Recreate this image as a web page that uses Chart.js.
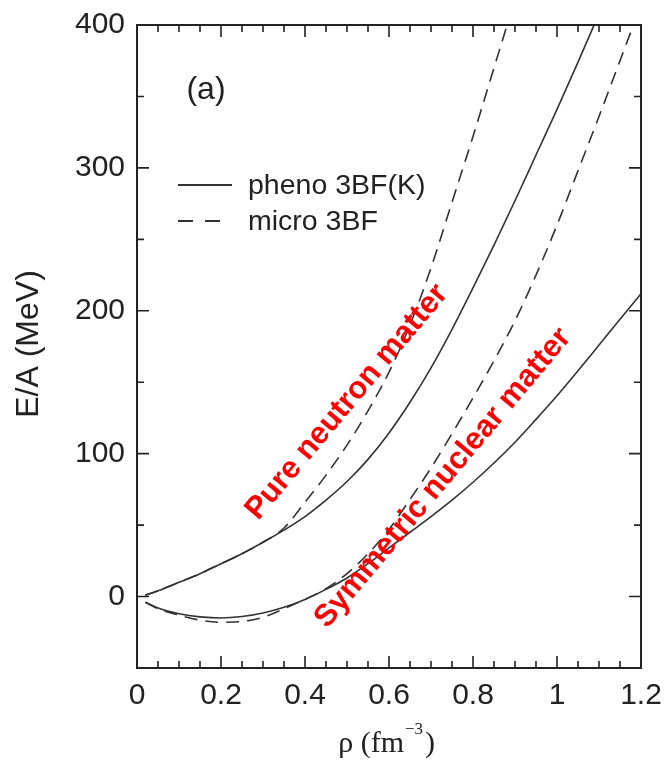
<!DOCTYPE html>
<html>
<head>
<meta charset="utf-8">
<script src="https://cdn.jsdelivr.net/npm/chart.js@4.4.0/dist/chart.umd.min.js"></script>
<style>
  html, body { margin: 0; padding: 0; background: #fff; }
</style>
</head>
<body>
<canvas id="graficaEA" width="666" height="766"></canvas>
<script>
// densidad (fm^-3)
const rho = [0.02, 0.05, 0.1, 0.15, 0.2, 0.25, 0.3, 0.35, 0.4, 0.45, 0.5, 0.55, 0.6,
             0.65, 0.7, 0.75, 0.8, 0.85, 0.9, 0.95, 1.0, 1.05, 1.1, 1.15, 1.2];

// E/A (MeV), materia de neutrones pura
const pnmPheno = [1, 4, 10, 16, 23, 30, 38, 46.5, 56, 67.5, 80.5, 96, 114.5,
                  136, 160, 187, 216, 246, 277, 309, 341, 374, 408, null, null];
const pnmMicro = [1, 4, 10, 16, 23, 30, 38, 48, 66, 85, 106, 130, 157,
                  190, 230, 276, 322, 370, 418, null, null, null, null, null, null];

// E/A (MeV), materia nuclear simetrica
const snmPheno = [-4, -8, -12, -14.2, -15, -14, -11.5, -7.5, -2, 5, 13, 23, 34,
                  45, 56, 67.5, 80, 93.5, 108, 124, 140.5, 158, 176, 194, 212];
const snmMicro = [-4, -8.5, -13, -16.5, -18, -17.5, -14.5, -8.5, -2, 5.5, 16, 30, 47,
                  68, 90, 114, 139, 165, 193, 225, 260, 298, 336, 375, 414];

const xTicks = [0, 0.2, 0.4, 0.6, 0.8, 1, 1.2];
const yTicks = [0, 100, 200, 300, 400];

const serieLabels = ['pheno 3BF(K)', 'micro 3BF'];

const colorLinea = '#333';
const guiones = [13, 8];

function puntos(valores) {
    return rho.map((r, i) => ({ x: r, y: valores[i] }));
}

function curva(valores, punteada) {
    return {
        data: puntos(valores),
        borderColor: colorLinea,
        borderWidth: 1.6,
        borderDash: punteada ? guiones : [],
        pointRadius: 0,
        cubicInterpolationMode: 'monotone',
        fill: false,
        spanGaps: false
    };
}

// marco, ticks hacia dentro y textos
const marco = {
    id: 'marco',
    afterDraw(chart) {
        const { ctx, chartArea: a, scales: { x, y } } = chart;
        ctx.save();
        ctx.strokeStyle = '#222';
        ctx.lineWidth = 2;
        ctx.strokeRect(a.left, a.top, a.right - a.left, a.bottom - a.top);

        ctx.lineWidth = 1.6;
        ctx.beginPath();
        for (let i = 1; i < 24; i++) {
            const px = x.getPixelForValue(i * 0.05);
            const largo = i % 4 === 0 ? 12 : 7;
            ctx.moveTo(px, a.bottom); ctx.lineTo(px, a.bottom - largo);
            ctx.moveTo(px, a.top); ctx.lineTo(px, a.top + largo);
        }
        for (let i = 0; i < 8; i++) {
            const py = y.getPixelForValue(i * 50);
            const largo = i % 2 === 0 ? 12 : 7;
            ctx.moveTo(a.left, py); ctx.lineTo(a.left + largo, py);
            ctx.moveTo(a.right, py); ctx.lineTo(a.right - largo, py);
        }
        ctx.stroke();

        // titulos de ejes
        ctx.fillStyle = '#222';
        ctx.textAlign = 'center';
        ctx.textBaseline = 'middle';
        ctx.save();
        ctx.translate(29, 344);
        ctx.rotate(-Math.PI / 2);
        ctx.font = '32px "Liberation Sans", Arial, sans-serif';
        ctx.fillText('E/A (MeV)', 0, 0);
        ctx.restore();

        ctx.font = '30px "Liberation Serif", "Times New Roman", serif';
        ctx.textAlign = 'right';
        ctx.fillText('ρ (fm', 404, 744);
        ctx.font = '17px "Liberation Serif", "Times New Roman", serif';
        ctx.textAlign = 'left';
        ctx.fillText('−3', 405, 730);
        ctx.font = '30px "Liberation Serif", "Times New Roman", serif';
        ctx.fillText(')', 425, 744);

        // etiqueta del panel
        ctx.font = '32px "Liberation Sans", Arial, sans-serif';
        ctx.textAlign = 'center';
        ctx.fillText('(a)', 206, 90);

        // leyenda
        ctx.strokeStyle = colorLinea;
        ctx.lineWidth = 1.8;
        ctx.beginPath();
        ctx.moveTo(178, 185); ctx.lineTo(232, 185);
        ctx.stroke();
        ctx.setLineDash([15, 12]);
        ctx.beginPath();
        ctx.moveTo(178, 221); ctx.lineTo(232, 221);
        ctx.stroke();
        ctx.setLineDash([]);
        ctx.font = '28.5px "Liberation Sans", Arial, sans-serif';
        ctx.textAlign = 'left';
        ctx.fillText(serieLabels[0], 248, 186);
        ctx.fillText(serieLabels[1], 248, 222);

        // rotulos en rojo
        ctx.fillStyle = '#ff0000';
        ctx.font = 'bold 31px "Liberation Sans", Arial, sans-serif';
        ctx.textAlign = 'center';
        const ang = -50 * Math.PI / 180;
        ctx.save();
        ctx.translate(347, 402);
        ctx.rotate(ang);
        ctx.fillText('Pure neutron matter', 0, 0);
        ctx.restore();
        ctx.save();
        ctx.translate(443, 478);
        ctx.rotate(ang);
        ctx.fillText('Symmetric nuclear matter', 0, 0);
        ctx.restore();

        ctx.restore();
    }
};

const ctx = document.getElementById('graficaEA').getContext('2d');
const grafica = new Chart(ctx, {
    type: 'line',
    data: {
        datasets: [
            curva(pnmPheno, false),
            curva(pnmMicro, true),
            curva(snmPheno, false),
            curva(snmMicro, true)
        ]
    },
    options: {
        responsive: false,
        animation: false,
        layout: { padding: { top: 25, right: 25, left: 0, bottom: 0 } },
        plugins: {
            legend: { display: false },
            tooltip: { enabled: false }
        },
        scales: {
            x: {
                type: 'linear',
                min: 0,
                max: 1.2,
                grid: { display: false, drawTicks: false },
                border: { display: false },
                afterBuildTicks: (s) => { s.ticks = xTicks.map(v => ({ value: v })); },
                afterFit: (s) => { s.height = 98; s.paddingLeft = 0; s.paddingRight = 0; },
                ticks: {
                    color: '#222',
                    padding: 10,
                    maxRotation: 0,
                    font: { family: '"Liberation Sans", Arial, sans-serif', size: 30 },
                    callback: (v) => String(v)
                }
            },
            y: {
                type: 'linear',
                min: -50,
                max: 400,
                grid: { display: false, drawTicks: false },
                border: { display: false },
                afterBuildTicks: (s) => { s.ticks = yTicks.map(v => ({ value: v })); },
                afterFit: (s) => { s.width = 137; s.paddingTop = 0; s.paddingBottom = 0; },
                ticks: {
                    color: '#222',
                    padding: 12,
                    font: { family: '"Liberation Sans", Arial, sans-serif', size: 30 },
                    callback: (v) => String(v)
                }
            }
        }
    },
    plugins: [marco]
});
</script>
</body>
</html>
